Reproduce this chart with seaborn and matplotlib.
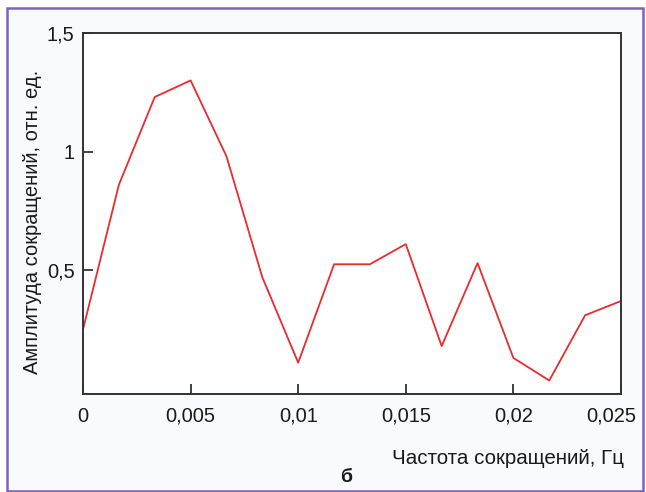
import matplotlib
matplotlib.use("Agg")
import matplotlib.pyplot as plt
import matplotlib.transforms as mtransforms
import seaborn as sns
import pandas as pd
from matplotlib.patches import Rectangle
from matplotlib.ticker import FixedLocator, FixedFormatter

freq = [0.0, 0.001667, 0.003333, 0.005, 0.006667, 0.008333, 0.01, 0.011667,
        0.013333, 0.015, 0.016667, 0.018333, 0.02, 0.021667, 0.023333, 0.025]
amp = [0.25, 0.86, 1.23, 1.30, 0.98, 0.47, 0.11, 0.525,
       0.525, 0.61, 0.18, 0.53, 0.13, 0.035, 0.31, 0.37]
xticks = [0, 0.005, 0.01, 0.015, 0.02, 0.025]
xticklabels = ["0", "0,005", "0,01", "0,015", "0,02", "0,025"]
yticks = [0.5, 1.0, 1.5]
yticklabels = ["0,5", "1", "1,5"]

sns.set_theme(style="white")
plt.rcParams['font.family'] = ['Liberation Sans', 'DejaVu Sans']

fig = plt.figure(figsize=(6.46, 4.92), dpi=100)
fig.patch.set_facecolor("white")
fig.patches.append(Rectangle((7/646, 0.002), 636/646, 1 - 8/492 - 0.002,
                             transform=fig.transFigure, facecolor="#f8fafd",
                             edgecolor="#7a63c2", linewidth=1.8, zorder=-10))

ax = fig.add_axes([83/646, 1 - 394/492, (621 - 83)/646, (394 - 33)/492])
ax.set_zorder(1)
ax.set_facecolor("white")
df = pd.DataFrame({"f": freq, "a": amp})
sns.lineplot(data=df, x="f", y="a", ax=ax, color="#ec2a2e", linewidth=1.3)

ax.set_xlim(0, 0.025)
ax.set_ylim(-0.022, 1.5)
ax.xaxis.set_major_locator(FixedLocator(xticks))
ax.xaxis.set_major_formatter(FixedFormatter(xticklabels))
ax.yaxis.set_major_locator(FixedLocator(yticks))
ax.yaxis.set_major_formatter(FixedFormatter(yticklabels))
ax.tick_params(axis="both", direction="in", length=7, width=1.3, color="#333333",
               labelsize=14.5, labelcolor="#1a1a1a", pad=9, left=True, bottom=True)
ax.tick_params(axis="y", pad=6)
for s in ax.spines.values():
    s.set_visible(True)
    s.set_color("#333333")
    s.set_linewidth(1.4)

# nudge the last x tick label left, as in the reference
last = ax.get_xticklabels()[-1]
last.set_transform(last.get_transform() +
                   mtransforms.ScaledTranslation(-10/100, 0, fig.dpi_scale_trans))

ax.set_xlabel("")
ax.set_ylabel("")
fig.text(33/646, 1 - 222/492, "Амплитуда сокращений, отн. ед.", rotation=90,
         ha="center", va="center", fontsize=14.5, color="#1a1a1a")
fig.text(624/646, 1 - 458/492, "Частота сокращений, Гц", ha="right", va="center",
         fontsize=14.8, color="#1a1a1a")
fig.text(346/646, 1 - 478/492, "б", ha="center", va="center",
         fontsize=14, fontweight="bold", color="#1a1a1a")

fig.savefig("out.png", dpi=100)
